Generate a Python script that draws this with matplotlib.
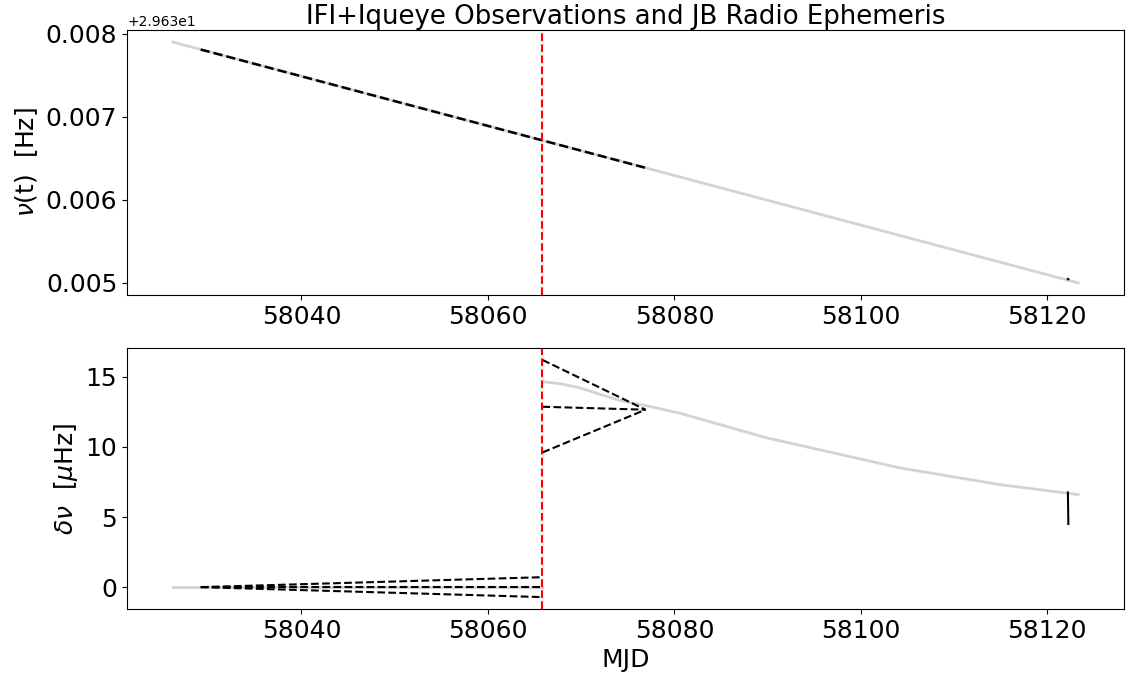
import numpy as np
import matplotlib
matplotlib.use("Agg")
import matplotlib.pyplot as plt

# glitch epoch (MJD)
glitch_mjd = 58065.85

# JB radio ephemeris, nu(t) in Hz
jb_mjd = [58026.2, 58065.85, 58076.9, 58123.3]
jb_nu = [29.637902, 29.636717, 29.636387, 29.635000]

# IFI+Iqueye frequency solution (Hz)
obs_mjd = [58029.2, 58065.85, 58076.9]
obs_nu = [29.637812, 29.636717, 29.636387]
late_mjd = [58122.2, 58122.25]
late_nu = [29.635048, 29.635044]

# JB ephemeris, frequency residual delta nu in microHz
jb_pre_mjd = [58026.2, 58065.85]
jb_pre_dnu = [0.0, 0.0]
jb_post_mjd = [58065.85, 58067.8, 58069.9, 58072.0, 58074.2, 58076.9, 58080.6, 58089.8, 58104.2, 58115.0, 58123.3]
jb_post_dnu = [14.65, 14.5, 14.2, 13.75, 13.3, 12.95, 12.4, 10.66, 8.5, 7.3, 6.6]

# observation fits, delta nu in microHz
pre_mjd = [58029.2, 58065.85]
pre_fits = [[0.0, 0.71], [0.0, 0.0], [0.0, -0.71]]
post_mjd = [58065.85, 58076.9]
post_fits = [[16.2, 12.65], [12.86, 12.65], [9.6, 12.65]]
late_dnu = [6.75, 4.5]

mjd_ticks = [58040, 58060, 58080, 58100, 58120]

fig = plt.figure(figsize=(11.32, 6.77), dpi=100)
ax1 = fig.add_axes([0.1122, 0.5643, 0.881, 0.3914])
ax2 = fig.add_axes([0.1122, 0.1004, 0.881, 0.3856])

# top: nu(t)
ax1.plot(jb_mjd, jb_nu, color='lightgray', lw=2)
ax1.plot(obs_mjd, obs_nu, color='black', ls='--', lw=1.8)
ax1.plot(late_mjd, late_nu, color='black', lw=1.5)
ax1.axvline(glitch_mjd, color='red', ls='--', lw=1.5)
ax1.set_ylabel(r'$\nu$(t)  [Hz]', fontsize=18)
ax1.set_title('IFI+Iqueye Observations and JB Radio Ephemeris', fontsize=18.7, pad=2)
ax1.set_yticks([29.635, 29.636, 29.637, 29.638])
ax1.tick_params(labelsize=18)

# bottom: delta nu
ax2.plot(jb_pre_mjd, jb_pre_dnu, color='lightgray', lw=2)
ax2.plot(jb_post_mjd, jb_post_dnu, color='lightgray', lw=2)
for f in pre_fits:
    ax2.plot(pre_mjd, f, color='black', ls='--', lw=1.5)
for f in post_fits:
    ax2.plot(post_mjd, f, color='black', ls='--', lw=1.5)
ax2.plot(late_mjd, late_dnu, color='black', lw=1.5)
ax2.axvline(glitch_mjd, color='red', ls='--', lw=1.5)
ax2.set_ylabel(r'$\delta\nu$  [$\mu$Hz]', fontsize=18)
ax2.set_xlabel('MJD', fontsize=18)
ax2.tick_params(labelsize=18)

for ax in (ax1, ax2):
    ax.set_xlim(58021.3, 58128.25)
    ax.set_xticks(mjd_ticks)
ax2.set_ylim(-1.56, 17.05)

fig.savefig('out.png', dpi=100)
